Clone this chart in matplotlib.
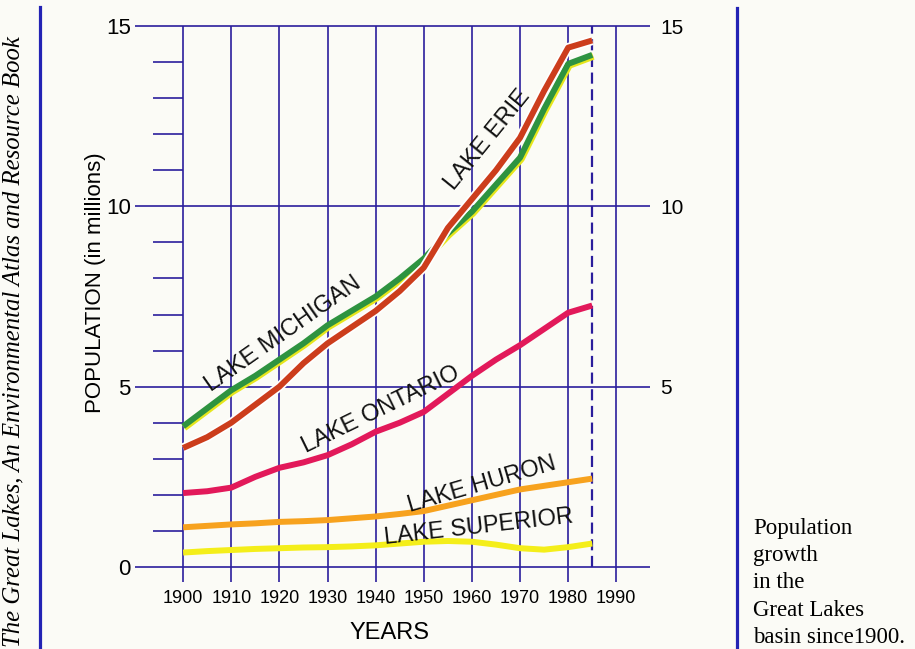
import matplotlib
matplotlib.use("Agg")
import matplotlib.pyplot as plt
import matplotlib.patheffects as pe
from matplotlib.lines import Line2D

# ---------------- data (millions) ----------------
years = [1900, 1905, 1910, 1915, 1920, 1925, 1930, 1935, 1940, 1945,
         1950, 1955, 1960, 1965, 1970, 1975, 1980, 1985]
michigan = [3.9, 4.4, 4.9, 5.3, 5.75, 6.2, 6.7, 7.1, 7.5, 8.0,
            8.55, 9.25, 9.85, 10.6, 11.35, 12.7, 13.95, 14.2]
erie = [3.3, 3.6, 4.0, 4.5, 5.0, 5.65, 6.2, 6.65, 7.1, 7.65,
        8.3, 9.4, 10.2, 11.0, 11.9, 13.2, 14.4, 14.6]
ontario = [2.05, 2.1, 2.2, 2.5, 2.75, 2.9, 3.1, 3.4, 3.75, 4.0,
           4.3, 4.8, 5.3, 5.75, 6.15, 6.6, 7.05, 7.25]
huron = [1.1, 1.14, 1.18, 1.21, 1.25, 1.27, 1.3, 1.35, 1.4, 1.47,
         1.55, 1.7, 1.85, 2.0, 2.15, 2.25, 2.35, 2.45]
superior = [0.4, 0.44, 0.47, 0.5, 0.52, 0.54, 0.55, 0.57, 0.6, 0.65,
            0.7, 0.72, 0.7, 0.62, 0.52, 0.48, 0.55, 0.65]

x_ticks = [1900, 1910, 1920, 1930, 1940, 1950, 1960, 1970, 1980, 1990]
x_tick_labels = [str(v) for v in x_ticks]
y_ticks = [0, 5, 10, 15]
y_tick_labels = ["0", "5", "10", "15"]
y_ticks_right = [5, 10, 15]
y_tick_labels_right = ["5", "10", "15"]
y_minor = [1, 2, 3, 4, 6, 7, 8, 9, 11, 12, 13, 14]
last_year = 1985

GRID = "#2b1e9c"
BG = "#fbfbf6"

W, H = 915, 649
fig = plt.figure(figsize=(W / 100, H / 100), dpi=100, facecolor=BG)

# axes: left px 135, right px 650, bottom px 583.2, top px 18.8
ax = fig.add_axes([135 / W, (H - 583.2) / H, (650 - 135) / W, (583.2 - 18.8) / H])
ax.set_facecolor(BG)
ax.set_xlim(1890, 1997)
ax.set_ylim(-0.45, 15.2)
for s in ax.spines.values():
    s.set_visible(False)

sans = "Liberation Sans"
serif = "Liberation Serif"

# grid
ax.hlines(y_ticks, 1890, 1997, color=GRID, lw=1.2, zorder=1)
ax.hlines(y_minor, 1893.8, 1900, color=GRID, lw=1.2, zorder=1)
ax.vlines(x_ticks, -0.42, 15, color=GRID, lw=1.2, zorder=1)
ax.vlines([last_year], 0, 15, color=GRID, lw=1.6, linestyles=(0, (5, 2.5)), zorder=1)

# ticks
ax.set_xticks(x_ticks)
ax.set_xticklabels(x_tick_labels, fontsize=13, family=sans)
ax.set_yticks(y_ticks)
ax.set_yticklabels(y_tick_labels, fontsize=16, family=sans)
ax.tick_params(axis="x", length=0, pad=5)
ax.tick_params(axis="y", length=0, pad=3)

ax2 = ax.twinx()
ax2.set_ylim(ax.get_ylim())
for s in ax2.spines.values():
    s.set_visible(False)
ax2.set_yticks(y_ticks_right)
ax2.set_yticklabels(y_tick_labels_right, fontsize=15, family=sans)
ax2.tick_params(axis="y", length=0, pad=7.5)

lw = 4.3
halo = [pe.Stroke(linewidth=lw + 2.5, foreground="white"), pe.Normal()]
ax.plot(years, superior, color="#f4ee1a", lw=lw, solid_capstyle="butt", zorder=3)
ax.plot(years, huron, color="#f7a21e", lw=lw, solid_capstyle="butt", zorder=3)
ax.plot(years, ontario, color="#e2195a", lw=lw, solid_capstyle="butt", zorder=3)
ax.plot(years, michigan, color="#2e9340", lw=lw, solid_capstyle="butt", zorder=3,
        path_effects=[pe.Stroke(linewidth=lw + 1, foreground="#e6e61c", offset=(0.7, -0.9)),
                      pe.Normal()])
ax.plot(years, erie, color="#cc3d1c", lw=lw, solid_capstyle="butt", zorder=4,
        path_effects=halo)

# lake labels
lab_kw = dict(fontsize=17, family=sans, color="#111111", ha="center", va="center",
              rotation_mode="anchor", zorder=5)
ax.text(1920.8, 6.45, "LAKE MICHIGAN", rotation=35, **lab_kw)
ax.text(1963.3, 11.85, "LAKE ERIE", rotation=51, **lab_kw)
ax.text(1941.0, 4.35, "LAKE ONTARIO", rotation=26, **lab_kw)
ax.text(1962.0, 2.28, "LAKE HURON", rotation=16.3, **lab_kw)
ax.text(1961.5, 1.1, "LAKE SUPERIOR", rotation=6.5, **lab_kw)

# axis titles
fig.text(389 / W, 1 - 633 / H, "YEARS", fontsize=17, family=sans, ha="center", va="center")
fig.text(96 / W, 1 - 283 / H, "POPULATION (in millions)", fontsize=16, family=sans,
         ha="center", va="center", rotation=90)

# side texts
fig.text(13 / W, 1 - 342 / H, "The Great Lakes, An Environmental Atlas and Resource Book",
         fontsize=17.8, family=serif, style="italic", ha="center", va="center", rotation=90)
fig.text(753 / W, 1 - 518 / H, "Population\ngrowth\nin the\nGreat Lakes\nbasin since1900.",
         fontsize=16.5, family=serif, ha="left", va="top", linespacing=1.39)

# page border lines
fig.add_artist(Line2D([40 / W, 40 / W], [0, 1 - 7 / H], color="#2323b4", lw=2.3))
fig.add_artist(Line2D([737 / W, 737 / W], [0, 1 - 8 / H], color="#2323b4", lw=2.3))

fig.savefig("out.png", dpi=100, facecolor=BG)
